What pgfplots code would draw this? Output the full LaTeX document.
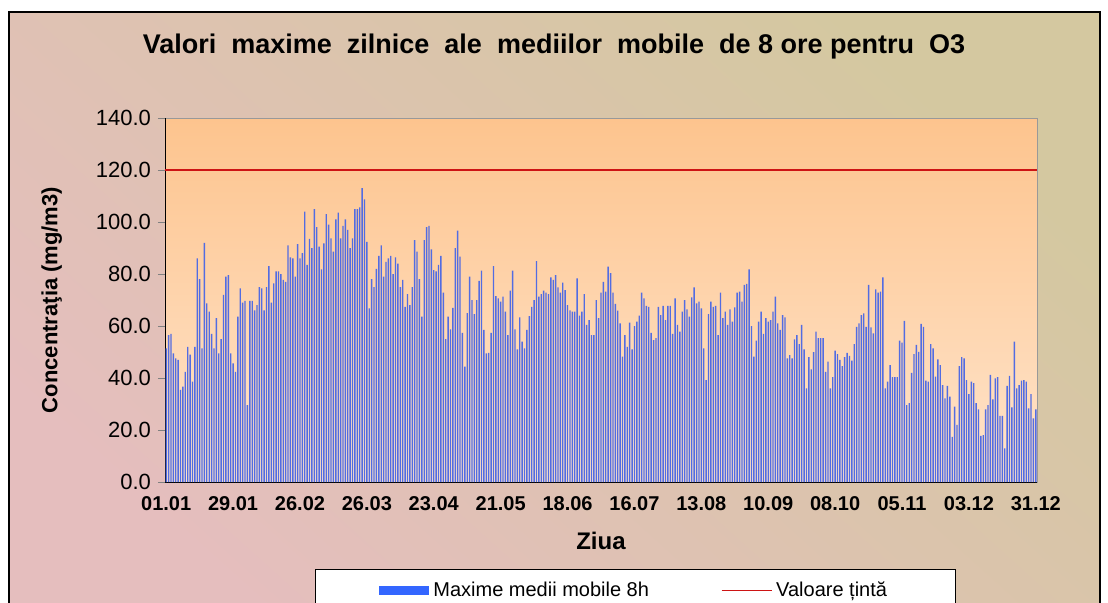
\documentclass[border=0pt]{standalone}
\usepackage{fontspec}
\setmainfont{Liberation Sans}
\usepackage{pgfplots}
\usepackage{pgfplotstable}
\pgfplotsset{compat=1.18}

\definecolor{barblue}{RGB}{82,108,226}
\definecolor{keyblue}{RGB}{51,102,255}
\definecolor{linered}{RGB}{205,20,20}
\definecolor{bgA}{RGB}{229,190,190}
\definecolor{bgM}{RGB}{243,236,221}
\definecolor{bgB}{RGB}{212,200,160}
\definecolor{paTop}{RGB}{253,196,142}
\definecolor{paBot}{RGB}{255,228,203}

% daily max of 8h running means, 01.01 - 31.12
\pgfplotstableread[row sep=\\]{
v\\
51.4\\56.5\\57\\49.5\\47.6\\47\\35.4\\36.7\\42.4\\52\\49\\38.6\\52\\86\\78\\51.4\\92\\68.7\\65.5\\57\\
51.4\\63\\49.5\\55\\72\\79\\79.6\\49.5\\45.6\\42.4\\63.6\\74.5\\69\\69.7\\29.6\\69.7\\69.7\\66\\68\\75\\
74.5\\66\\75\\83\\69\\76.4\\
81\\81\\80\\77.7\\77\\91\\86.4\\86\\79\\91.5\\86\\88\\104\\83.5\\93.5\\90\\105\\98\\90.5\\81.8\\
91.8\\103\\99\\93.7\\88.6\\101\\103.6\\93.7\\98.5\\101\\97\\90\\93.7\\105\\105\\105.6\\113\\108.7\\92.4\\66.8\\
78\\75\\82\\87\\91\\79\\
84.7\\86\\87\\80\\86.4\\84\\75\\77.7\\67.4\\72.3\\68\\75\\93\\88.6\\78\\63.6\\93\\98\\98.5\\89.5\\
81.5\\81\\83.5\\87\\72.8\\55\\63.6\\58.7\\67\\90\\96.7\\86.7\\57.4\\44.4\\65\\79\\70\\64.6\\70\\77.4\\
81.3\\58.5\\49.5\\49.7\\57.4\\83\\
71.5\\70.6\\69.4\\71.3\\65.5\\56.5\\73.6\\81.3\\58.7\\51\\63.3\\54\\51.4\\58.5\\63.8\\67.4\\70\\85\\71.3\\72.3\\
73.6\\72.8\\72.3\\78.7\\77.7\\79.6\\74.9\\72.8\\76.7\\73.8\\68\\66\\65.5\\65.5\\78.3\\64\\65.5\\72.3\\60.4\\62.3\\
56.5\\56.5\\70\\63\\72.8\\77\\
73.2\\82.8\\80.3\\72.8\\68.5\\65.9\\61\\48.2\\56.5\\52\\61.3\\51\\60\\61.7\\64\\72.8\\70.6\\67.7\\67.4\\57.4\\
54.6\\55.3\\67.4\\64.2\\67.7\\62.3\\67.7\\67.7\\57\\70.6\\60.4\\57.8\\65.5\\70\\66.4\\63.6\\71\\74.9\\68.7\\69.4\\
66.8\\51.4\\39.2\\64.6\\69.4\\67.4\\
67.7\\56.5\\72.8\\63\\65.5\\60.4\\66.4\\61.7\\67.2\\72.8\\73.2\\69.4\\75.8\\76.2\\81.8\\60\\48.2\\54.4\\61.7\\65.5\\
57\\63\\61.7\\62.3\\65.5\\71.3\\61\\58.5\\64.2\\63.3\\47.6\\48.8\\47.6\\54.9\\56.5\\53\\60.4\\51\\36\\48\\
43.3\\50\\57.8\\55.3\\55.3\\
55.3\\42.4\\46.3\\36\\40.3\\50.5\\49.2\\47\\44.6\\48\\49.7\\48.5\\46.7\\53\\59.7\\61\\64.2\\64.9\\59.7\\75.8\\
59.5\\57.2\\74.1\\72.8\\73.2\\78.7\\36\\38.6\\45\\40.3\\40.3\\40.3\\54.4\\53.6\\62\\29.6\\30.3\\42\\49.2\\52.7\\
50.1\\60.8\\59.7\\39\\38.6\\53\\51.4\\
40.5\\47.2\\45\\37.3\\32.2\\37\\32.8\\17.4\\29\\22\\44.6\\48\\47.6\\39.2\\33.8\\38.6\\38\\30.3\\27.9\\17.7\\
18\\27.9\\29.6\\41.2\\31.8\\39.9\\40.3\\25.4\\25.4\\12.9\\37\\40.8\\28.7\\54\\36\\37.3\\39\\39.2\\38.6\\28.3\\
33.8\\24.5\\27.9\\
}\ozone

\begin{document}
\begin{tikzpicture}
% 1 px of the reference = 0.5pt, origin = lower left corner of the plot area
\path[use as bounding box] (-82.5pt,-60pt) rectangle (471.5pt,241pt);
\begin{scope}
\clip (-82.5pt,-60pt) rectangle (471.5pt,241pt);
\shade[bottom color=bgA, middle color=bgM, top color=bgB, shading angle=-42]
  (-78pt,-70pt) rectangle (467.5pt,235pt);
\draw[black, line width=0.8pt] (-78pt,-70pt) rectangle (467.5pt,235pt);
\end{scope}
\node[font=\bfseries\fontsize{13.5}{16}\selectfont] at (194.5pt,217.5pt)
  {Valori~~maxime~~zilnice~~ale~~mediilor~~mobile~~de 8 ore pentru~~O3};

\begin{axis}[
  at={(0,0)}, anchor=south west,
  scale only axis, width=436pt, height=182pt,
  xmin=0.5, xmax=365.5, ymin=0, ymax=140,
  axis lines=left, axis line style={black,-},
  axis background/.style={top color=paTop, bottom color=paBot, draw=gray!80},
  ytick={0,20,...,140},
  xtick={1,29,...,365},
  xticklabels={01.01,29.01,26.02,26.03,23.04,21.05,18.06,16.07,13.08,10.09,08.10,05.11,03.12,31.12},
  tick align=outside, major tick length=3.5pt,
  xtick style={draw=none},
  scaled y ticks=false,
  yticklabel style={/pgf/number format/.cd, fixed, fixed zerofill, precision=1,
    assume math mode=true, /tikz/.cd, font=\fontsize{11}{13}\selectfont},
  xticklabel style={font=\bfseries\fontsize{10}{12}\selectfont},
  ylabel={Concentraţia (mg/m3)},
  every axis y label/.style={at={(axis description cs:-0.13,0.5)}, rotate=90,
    anchor=center, font=\bfseries\fontsize{11}{13}\selectfont},
  xlabel={Ziua},
  every axis x label/.style={at={(axis description cs:0.5,-0.162)},
    anchor=center, font=\bfseries\fontsize{12}{14}\selectfont},
  legend columns=2, legend cell align=left,
  legend style={at={(axis description cs:0.172,-0.239)}, anchor=north west,
    draw=black, fill=white, font=\fontsize{10}{12}\selectfont,
    inner xsep=32pt, inner ysep=4pt, /tikz/column 2/.style={column sep=34pt}},
]
\addplot[ybar, bar width=0.58, fill=barblue, draw=none,
  legend image code/.code={\fill[keyblue] (0pt,-2.3pt) rectangle (25pt,2.3pt);}]
  table[x expr=\coordindex+1, y=v] {\ozone};
\addlegendentry{Maxime medii mobile 8h}
\addplot[sharp plot, linered, line width=0.8pt,
  legend image code/.code={\draw[linered, line width=0.6pt] (0pt,0pt) -- (25pt,0pt);}]
  coordinates {(0.5,120) (365.5,120)};
\addlegendentry{Valoare țintă}
\end{axis}
\end{tikzpicture}
\end{document}
